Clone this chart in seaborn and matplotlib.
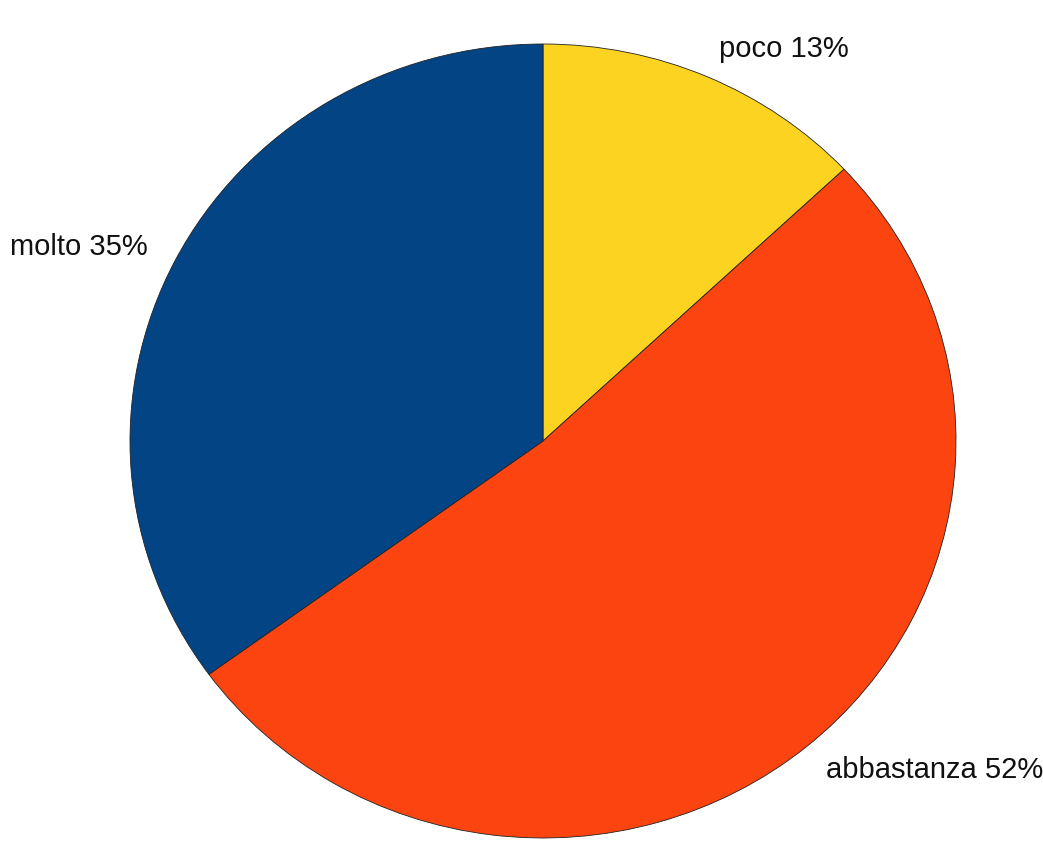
import matplotlib
matplotlib.use("Agg")
import matplotlib.pyplot as plt
import seaborn as sns

sns.set_theme(style="white")
plt.rcParams["font.family"] = ["Liberation Sans", "DejaVu Sans"]

# data
labels = ["poco", "abbastanza", "molto"]
values = [13, 52, 35]
colors = ["#FDD322", "#FC4411", "#034584"]

fig = plt.figure(figsize=(10.43, 8.65), dpi=100)
# pie slightly wider than tall, as in the reference
ax = fig.add_axes([130 / 1043, 27 / 865, 826 / 1043, 794 / 865])

texts = [f"{l} {v}%" for l, v in zip(labels, values)]
wedges, txts = ax.pie(
    values,
    labels=texts,
    colors=colors,
    startangle=90,
    counterclock=False,
    labeldistance=1.075,
    wedgeprops={"edgecolor": "#222222", "linewidth": 0.6},
    textprops={"fontsize": 21, "color": "#111111"},
)
ax.set_aspect("auto")
ax.set_xlim(-1, 1)
ax.set_ylim(-1, 1)
ax.axis("off")

fig.savefig("out.png", dpi=100, facecolor="white")
